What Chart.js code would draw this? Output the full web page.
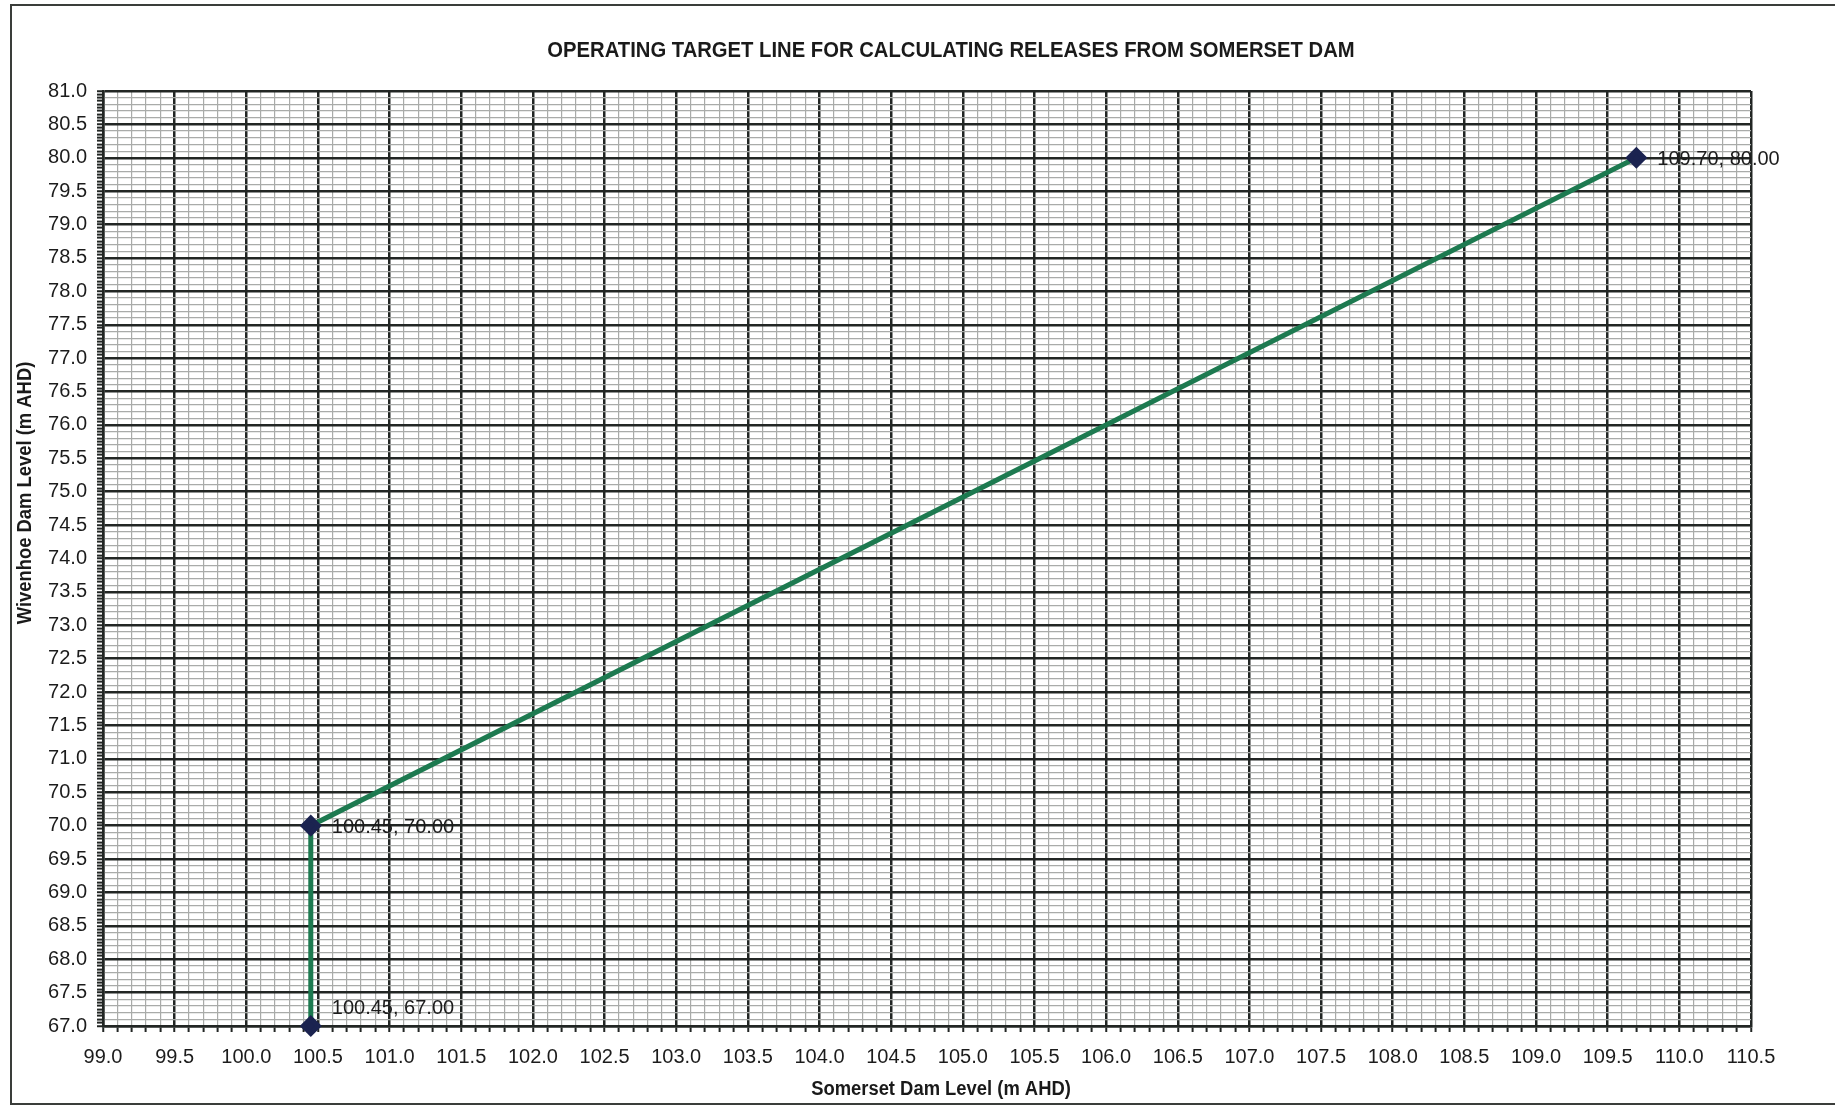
<!DOCTYPE html>
<html>
<head>
<meta charset="utf-8">
<script src="https://cdn.jsdelivr.net/npm/chart.js@4/dist/chart.umd.min.js"></script>
<style>
  html, body { margin: 0; padding: 0; background: #fff; }
  #wrap { width: 1835px; height: 1107px; position: relative; }
</style>
</head>
<body>
<div id="wrap"><canvas id="chart"></canvas></div>
<script>
// operating target line points
const somersetLevels = [100.45, 100.45, 109.70];
const wivenhoeLevels = [67.00, 70.00, 80.00];
const labelSides = ["above", "right", "right"];

const xMin = 99.0, xMax = 110.5;
const yMin = 67.0, yMax = 81.0;

const chartTitle = "OPERATING TARGET LINE FOR CALCULATING RELEASES FROM SOMERSET DAM";
const xTitle = "Somerset Dam Level (m AHD)";
const yTitle = "Wivenhoe Dam Level (m AHD)";

const DARK = "#222624";
const LIGHT = "#a9aba9";
const TEXT_FONT = "'Liberation Sans', Arial, sans-serif";

function isMajor(v) {
  return Math.abs(v * 2 - Math.round(v * 2)) < 1e-6;
}
function isTenth(v) {
  return Math.abs(v * 10 - Math.round(v * 10)) < 1e-6;
}

const framePlugin = {
  id: "frame",
  beforeDraw(chart) {
    const ctx = chart.ctx;
    ctx.save();
    ctx.fillStyle = "#fff";
    ctx.fillRect(0, 0, chart.width, chart.height);
    ctx.strokeStyle = "#3a3d3a";
    ctx.lineWidth = 2;
    ctx.beginPath();
    ctx.moveTo(chart.width, 5);
    ctx.lineTo(11, 5);
    ctx.lineTo(11, 1104);
    ctx.lineTo(chart.width, 1104);
    ctx.stroke();
    ctx.restore();
  },
};

// condensed bold text, like the original's narrow Helvetica
function narrowText(ctx, txt, x, y, angle) {
  ctx.save();
  ctx.translate(x, y);
  if (angle) ctx.rotate(angle);
  ctx.scale(0.92, 1);
  ctx.fillText(txt, 0, 0);
  ctx.restore();
}

const titlesPlugin = {
  id: "titles",
  afterDraw(chart) {
    const ctx = chart.ctx;
    ctx.save();
    ctx.fillStyle = "#1a1a1a";
    ctx.textAlign = "center";
    ctx.textBaseline = "middle";
    ctx.font = "bold 22px " + TEXT_FONT;
    narrowText(ctx, chartTitle, 951, 51);
    ctx.font = "bold 20px " + TEXT_FONT;
    narrowText(ctx, xTitle, 941, 1089);
    narrowText(ctx, yTitle, 25, 493, -Math.PI / 2);
    ctx.restore();
  },
};

const pointLabels = {
  id: "pointLabels",
  afterDatasetsDraw(chart) {
    const ctx = chart.ctx;
    const meta = chart.getDatasetMeta(0);
    ctx.save();
    ctx.font = "20px " + TEXT_FONT;
    ctx.fillStyle = "#1c1c1c";
    ctx.textBaseline = "middle";
    meta.data.forEach((pt, i) => {
      const txt = somersetLevels[i].toFixed(2) + ", " + wivenhoeLevels[i].toFixed(2);
      const dy = labelSides[i] === "above" ? -18 : 2;
      ctx.fillText(txt, pt.x + 21, pt.y + dy);
    });
    ctx.restore();
  },
};

const points = somersetLevels.map((x, i) => ({ x: x, y: wivenhoeLevels[i] }));

new Chart(document.getElementById("chart"), {
  type: "scatter",
  data: {
    datasets: [
      {
        data: points,
        showLine: true,
        borderColor: "#1d7a50",
        borderWidth: 5,
        pointStyle: "rectRot",
        pointRadius: 7.5,
        pointBackgroundColor: "#1b2350",
        pointBorderColor: "#1b2350",
        clip: false,
      },
    ],
  },
  options: {
    responsive: true,
    maintainAspectRatio: false,
    animation: false,
    layout: { padding: { left: 0, right: 84, top: 91, bottom: 0 } },
    plugins: {
      legend: { display: false },
      tooltip: { enabled: false },
    },
    scales: {
      x: {
        type: "linear",
        min: xMin,
        max: xMax,
        afterFit: (scale) => { scale.height = 81; },
        ticks: {
          stepSize: 0.1,
          autoSkip: false,
          maxRotation: 0,
          minRotation: 0,
          padding: 13,
          color: "#1c1c1c",
          font: { family: TEXT_FONT, size: 20 },
          callback: (v) => (isMajor(v) ? v.toFixed(1) : ""),
        },
        grid: {
          color: (c) => (isMajor(c.tick.value) ? DARK : LIGHT),
          lineWidth: (c) => (isMajor(c.tick.value) ? 2.5 : 1.2),
          tickColor: DARK,
          tickWidth: 2,
          tickLength: 6,
        },
        border: { color: DARK, width: 2.5 },
      },
      y: {
        type: "linear",
        min: yMin,
        max: yMax,
        afterFit: (scale) => { scale.width = 103; },
        ticks: {
          stepSize: 0.05,
          autoSkip: false,
          padding: 10,
          color: "#1c1c1c",
          font: { family: TEXT_FONT, size: 20 },
          callback: (v) => (isMajor(v) ? v.toFixed(1) : ""),
        },
        grid: {
          color: (c) => (isMajor(c.tick.value) ? DARK : isTenth(c.tick.value) ? LIGHT : "rgba(0,0,0,0)"),
          lineWidth: (c) => (isMajor(c.tick.value) ? 2.5 : 1.2),
          tickColor: DARK,
          tickWidth: 2,
          tickLength: 6,
        },
        border: { color: DARK, width: 2.5 },
      },
    },
  },
  plugins: [framePlugin, titlesPlugin, pointLabels],
});
</script>
</body>
</html>
